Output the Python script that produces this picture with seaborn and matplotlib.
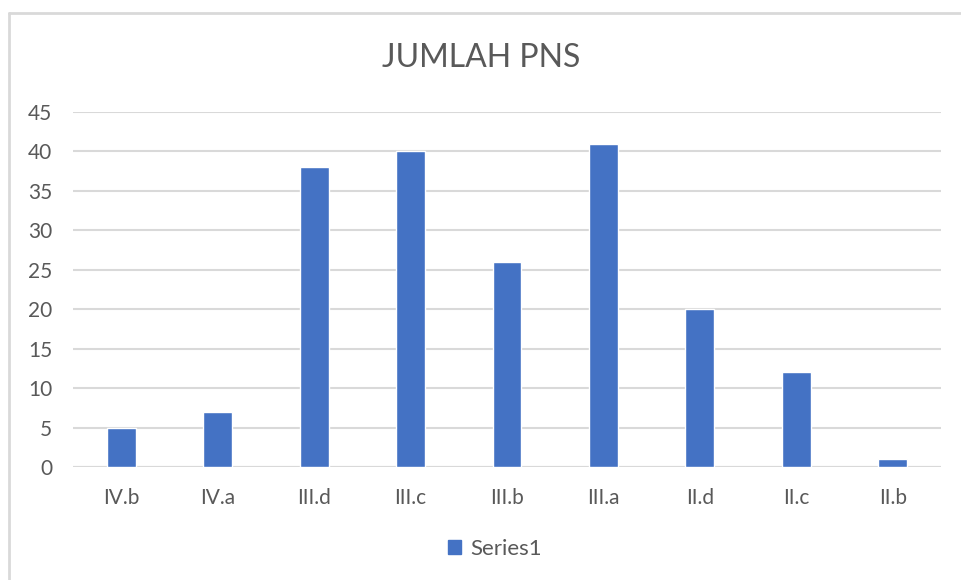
import matplotlib
matplotlib.use('Agg')
import matplotlib.pyplot as plt
import matplotlib.patches as mpatches
import matplotlib.lines as mlines
import seaborn as sns
import pandas as pd

golongan = ['IV.b', 'IV.a', 'III.d', 'III.c', 'III.b', 'III.a', 'II.d', 'II.c', 'II.b']
jumlah = [5, 7, 38, 40, 26, 41, 20, 12, 1]

df = pd.DataFrame({'golongan': golongan, 'jumlah': jumlah})

sns.set_style('white')
plt.rcParams['font.family'] = ['Lato', 'DejaVu Sans']

grey = '#595959'
blue = '#4472C4'

fig = plt.figure(figsize=(9.62, 5.80), dpi=100)
ax = fig.add_axes([73 / 962, 1 - 467 / 580, (941 - 73) / 962, (467 - 112) / 580])

sns.barplot(data=df, x='golongan', y='jumlah', color=blue, width=0.3,
            saturation=1, ax=ax, zorder=3)

ax.set_ylim(0, 45)
ax.set_xlim(-0.5, len(golongan) - 0.5)
ax.set_yticks(range(0, 46, 5))
ax.yaxis.grid(True, color='#D9D9D9', linewidth=1.5, zorder=0)
ax.set_axisbelow(True)
for s in ax.spines.values():
    s.set_visible(False)
ax.axhline(0, color='#D9D9D9', linewidth=1.5, zorder=2)
ax.tick_params(axis='both', length=0, labelsize=15, labelcolor=grey)
ax.tick_params(axis='y', pad=15)
ax.tick_params(axis='x', pad=15)
ax.set_xlabel('')
ax.set_ylabel('')

fig.text(0.5, 1 - 58 / 580, 'JUMLAH PNS', ha='center', va='center',
         fontsize=23, color=grey)

# chart border (top and left visible)
fig.add_artist(mlines.Line2D([9 / 962, 1], [1 - 13 / 580, 1 - 13 / 580],
                             color='#D9D9D9', linewidth=2))
fig.add_artist(mlines.Line2D([9 / 962, 9 / 962], [0, 1 - 13 / 580],
                             color='#D9D9D9', linewidth=2))

handle = mpatches.Patch(color=blue, label='Series1')
fig.legend(handles=[handle], loc='center', bbox_to_anchor=(495 / 962, 1 - 549 / 580),
           frameon=False, fontsize=16, labelcolor=grey, handlelength=0.6,
           handleheight=0.6, handletextpad=0.4)

fig.savefig('out.png', dpi=100, facecolor='white')
